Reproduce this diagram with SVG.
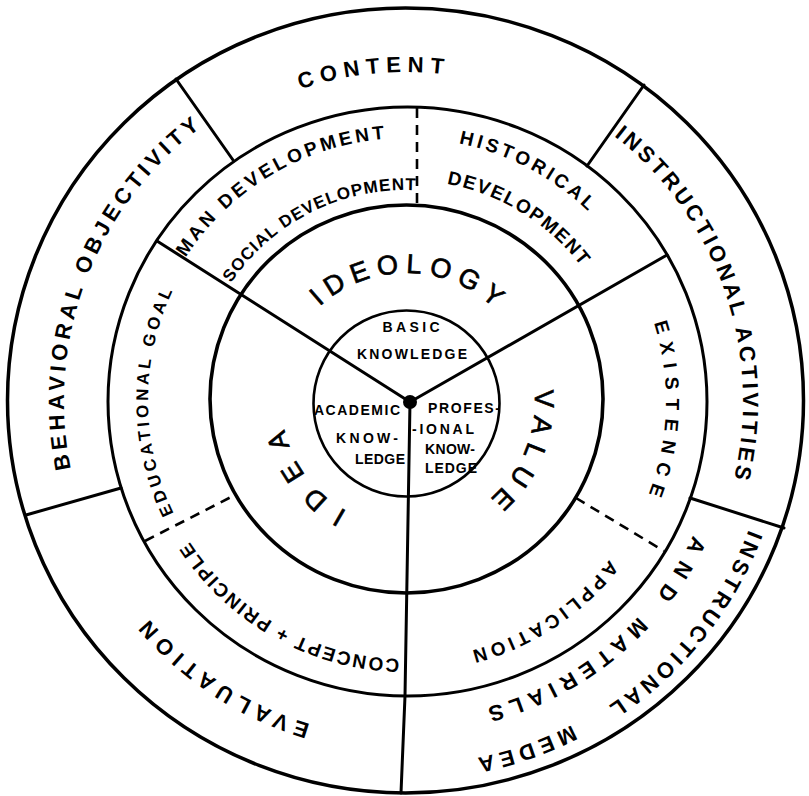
<svg xmlns="http://www.w3.org/2000/svg" xmlns:xlink="http://www.w3.org/1999/xlink" width="809" height="796" viewBox="0 0 809 796">
<style>
.ring{fill:none;stroke:#000;stroke-linecap:round}
.ln{fill:none;stroke:#000;stroke-width:3;stroke-linecap:round}
.dash{fill:none;stroke:#000;stroke-width:2.6;stroke-dasharray:10 7}
.t{font-family:"Liberation Sans",Arial,sans-serif;font-weight:bold;fill:#000}
.o{font-size:22px}
.m{font-size:19px}
.s{font-size:17px}
.big{font-family:"Liberation Sans",Arial,sans-serif;font-weight:normal;fill:#000;stroke:#000;stroke-width:0.7}
.c{font-family:"Liberation Sans",Arial,sans-serif;font-weight:bold;font-size:14px;fill:#000;text-anchor:middle}
</style>
<defs>
<path id="r366" d="M41.39,369.10 A366,366 0 0 1 770.61,369.10"/>
<path id="r364" d="M43.39,369.27 A364,364 0 0 1 768.61,369.27"/>
<path id="r342" d="M65.30,371.19 A342,342 0 0 1 746.70,371.19"/>
<path id="r337" d="M70.28,371.63 A337,337 0 0 1 741.72,371.63"/>
<path id="r329" d="M78.25,372.32 A329,329 0 0 1 733.75,372.32"/>
<path id="r317" d="M90.21,373.37 A317,317 0 0 1 721.79,373.37"/>
<path id="r263" d="M144.00,378.08 A263,263 0 0 1 668.00,378.08"/>
<path id="r260" d="M146.99,378.34 A260,260 0 0 1 665.01,378.34"/>
<path id="r258" d="M148.98,378.51 A258,258 0 0 1 663.02,378.51"/>
<path id="r221" d="M185.84,381.74 A221,221 0 0 1 626.16,381.74"/>
<path id="r211" d="M195.80,382.61 A211,211 0 0 1 616.20,382.61"/>
<path id="r129" d="M277.49,389.76 A129,129 0 0 1 534.51,389.76"/>
<path id="r128" d="M278.49,389.84 A128,128 0 0 1 533.51,389.84"/>
<path id="r125" d="M281.48,390.10 A125,125 0 0 1 530.52,390.10"/>
</defs>
<rect width="809" height="796" fill="#fff"/>

<g id="rings">
<ellipse class="ring" cx="405.5" cy="400.5" rx="398" ry="392.5" stroke-width="3.5"/>
<ellipse class="ring" cx="407.5" cy="401.5" rx="299.5" ry="294.5" stroke-width="3"/>
<ellipse class="ring" cx="406.5" cy="399" rx="196.5" ry="194" stroke-width="3.6"/>
<circle class="ring" cx="406.5" cy="403.5" r="93" stroke-width="2.6"/>
</g>

<g id="connectors">
<polyline class="ln" points="410,402 157,241"/>
<polyline class="ln" points="410,402 667,255"/>
<polyline class="ln" points="410,402 405,696 401,793"/>
<line class="ln" x1="176" y1="79" x2="233" y2="160"/>
<line class="ln" x1="644" y1="85" x2="587" y2="166"/>
<line class="ln" x1="26" y1="515" x2="121" y2="488"/>
<line class="ln" x1="690" y1="498" x2="784" y2="528"/>
<line class="dash" x1="417" y1="108" x2="417" y2="205"/>
<line class="dash" x1="145" y1="541" x2="235" y2="495"/>
<line class="dash" x1="576" y1="498" x2="664" y2="551"/>
<circle cx="410" cy="402" r="7" fill="#000"/>
</g>

<g id="content"><text class="t o" transform="rotate(-6.1 406 401)"><textPath href="#r329" startOffset="50%" text-anchor="middle" textLength="145" lengthAdjust="spacing">CONTENT</textPath></text></g>
<g id="behavioral-objectivity"><text class="t o" transform="rotate(290.8 406 401)"><textPath href="#r342" startOffset="50%" text-anchor="middle" textLength="385" lengthAdjust="spacing">BEHAVIORAL OBJECTIVITY</textPath></text></g>
<g id="instructional-activities"><text class="t o" transform="rotate(70.7 406 401)"><textPath href="#r337" startOffset="50%" text-anchor="middle" textLength="383" lengthAdjust="spacing">INSTRUCTIONAL ACTIVITIES</textPath></text></g>
<g id="instructional-media">
<text class="t o" transform="rotate(128.5 406 401)"><textPath href="#r366" startOffset="50%" text-anchor="middle" textLength="229" lengthAdjust="spacing">INSTRUCTIONAL</textPath></text>
<text class="t o" transform="rotate(160.8 406 401)"><textPath href="#r364" startOffset="50%" text-anchor="middle" textLength="101" lengthAdjust="spacing">MEDEA</textPath></text>
<text class="t o" transform="rotate(121.4 406 401)"><textPath href="#r317" startOffset="50%" text-anchor="middle" textLength="70" lengthAdjust="spacing">AND</textPath></text>
<text class="t o" transform="rotate(149 406 401)"><textPath href="#r317" startOffset="50%" text-anchor="middle" textLength="179" lengthAdjust="spacing">MATERIALS</textPath></text>
</g>
<g id="evaluation"><text class="t o" transform="rotate(213.1 406 401)"><textPath href="#r337" startOffset="50%" text-anchor="middle" textLength="195" lengthAdjust="spacing">EVALUATION</textPath></text></g>

<g id="man-social-development">
<text class="t m" transform="rotate(-30.8 406 401)"><textPath href="#r263" startOffset="50%" text-anchor="middle" textLength="240" lengthAdjust="spacing">MAN DEVELOPMENT</textPath></text>
<text class="t s" transform="rotate(-26.7 406 401)"><textPath href="#r211" startOffset="50%" text-anchor="middle" textLength="216" lengthAdjust="spacing">SOCIAL DEVELOPMENT</textPath></text>
</g>
<g id="historical-development">
<text class="t m" transform="rotate(27.7 406 401)"><textPath href="#r263" startOffset="50%" text-anchor="middle" textLength="148" lengthAdjust="spacing">HISTORICAL</textPath></text>
<text class="t m" transform="rotate(31.5 406 401)"><textPath href="#r221" startOffset="50%" text-anchor="middle" textLength="161" lengthAdjust="spacing">DEVELOPMENT</textPath></text>
</g>
<g id="existence"><text class="t m" transform="rotate(91.75 406 401)"><textPath href="#r260" startOffset="50%" text-anchor="middle" textLength="175" lengthAdjust="spacing">EXISTENCE</textPath></text></g>
<g id="application"><text class="t m" transform="rotate(146.6 406 401)"><textPath href="#r258" startOffset="50%" text-anchor="middle" textLength="168" lengthAdjust="spacing">APPLICATION</textPath></text></g>
<g id="concept-principle"><text class="t m" transform="rotate(209.2 406 401)"><textPath href="#r258" startOffset="50%" text-anchor="middle" textLength="250" lengthAdjust="spacing">CONCEPT + PRINCIPLE</textPath></text></g>
<g id="educational-goal"><text class="t s" transform="rotate(269.7 406 401)"><textPath href="#r258" startOffset="50%" text-anchor="middle" textLength="230" lengthAdjust="spacing">EDUCATIONAL GOAL</textPath></text></g>

<g id="ideology"><text class="big" font-size="27" transform="rotate(0.5 406 401)"><textPath href="#r128" startOffset="50%" text-anchor="middle" textLength="192" lengthAdjust="spacing">IDEOLOGY</textPath></text></g>
<g id="value"><text class="big" font-size="27" transform="rotate(112.2 406 401)"><textPath href="#r129" startOffset="50%" text-anchor="middle" textLength="122" lengthAdjust="spacing">VALUE</textPath></text></g>
<g id="idea"><text class="big" font-size="27" transform="rotate(232.5 406 401)"><textPath href="#r125" startOffset="50%" text-anchor="middle" textLength="106" lengthAdjust="spacing">IDEA</textPath></text></g>

<g id="basic-knowledge">
<text class="c" x="411" y="332" textLength="57" lengthAdjust="spacing">BASIC</text>
<text class="c" x="412" y="359" textLength="110" lengthAdjust="spacing">KNOWLEDGE</text>
</g>
<g id="academic-knowledge">
<text class="c" x="357" y="415" textLength="86" lengthAdjust="spacing">ACADEMIC</text>
<text class="c" x="367" y="443" textLength="62" lengthAdjust="spacing">KNOW-</text>
<text class="c" x="380" y="464" textLength="50" lengthAdjust="spacing">LEDGE</text>
</g>
<g id="professional-knowledge">
<text class="c" x="464" y="413" textLength="72" lengthAdjust="spacing">PROFES-</text>
<text class="c" x="443" y="434" textLength="62" lengthAdjust="spacing">-IONAL</text>
<text class="c" x="450" y="454" textLength="50" lengthAdjust="spacing">KNOW-</text>
<text class="c" x="451" y="473" textLength="52" lengthAdjust="spacing">LEDGE</text>
</g>
</svg>
